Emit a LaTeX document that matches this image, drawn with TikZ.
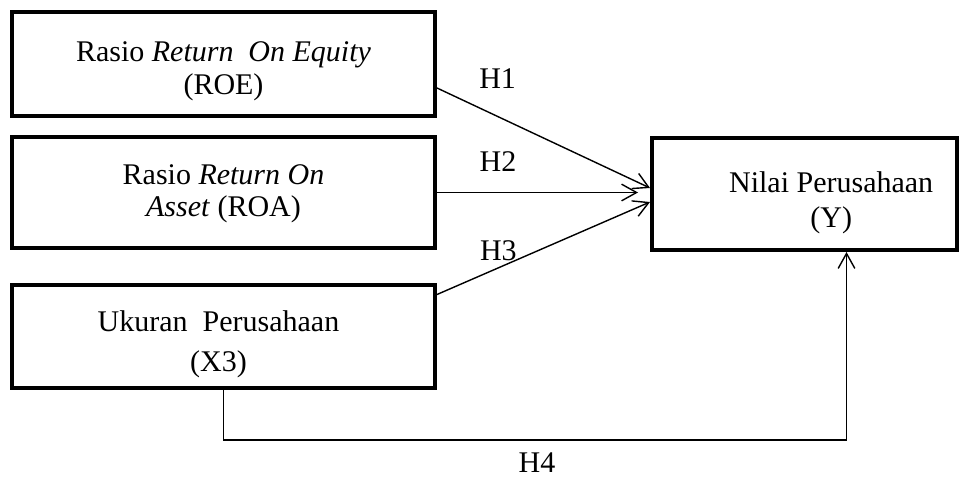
\documentclass[tikz,border=0pt]{standalone}
\usepackage{fontspec}
\setmainfont{Liberation Serif}
\usetikzlibrary{arrows.meta, calc}

\begin{document}
\begin{tikzpicture}[
    box/.style={rectangle, draw=black, line width=3.4pt, minimum width=12.69cm},
    txt/.style={align=center, inner sep=0pt, font=\fontsize{25.6}{28}\selectfont},
    hyp/.style={inner sep=0pt, font=\fontsize{25.6}{28}\selectfont},
    arr/.style={-{Straight Barb[length=0.45cm, width=0.5cm]}, draw=black, line width=1.2pt}
  ]
    \useasboundingbox (0,0) rectangle (28.92,14.4);
    \node[box, minimum height=3.12cm] (roe) at (6.705,12.48) {};
    \node[box, minimum height=3.33cm] (roa) at (6.705,8.625) {};
    \node[box, minimum height=3.09cm] (ukuran) at (6.705,4.305) {};
    \node[box, minimum width=9.15cm, minimum height=3.36cm] (nilai) at (24.135,8.58) {};
    \node[txt] (roetext) at ([yshift=-0.22cm]roe.center) {Rasio \textit{Return\ \ On Equity}\\(ROE)};
    \node[txt] (roatext) at ([yshift=-0.04cm]roa.center) {Rasio \textit{Return On}\\\textit{Asset} (ROA)};
    \node[txt] (ukurantext) at ([xshift=-0.15cm, yshift=-0.23cm]ukuran.center) {Ukuran\ \ Perusahaan\\[6pt](X3)};
    \node[txt] (nilaitext) at ([xshift=0.8cm, yshift=-0.26cm]nilai.center) {Nilai Perusahaan\\[2pt](Y)};
    % hypotheses
    \draw[arr] ([yshift=-0.72cm]roe.east) -- ([yshift=0.18cm]nilai.west);
    \draw[arr] (roa.east) -- ([xshift=-0.36cm]roa.east -| nilai.west);
    \draw[arr] ([yshift=1.26cm]ukuran.east) -- ([yshift=-0.24cm]nilai.west);
    \draw[arr] (ukuran.south) -- ++(0,-1.5) -| ([xshift=1.26cm]nilai.south);
    \node[hyp] (h1) at (14.93,12.03) {H1};
    \node[hyp] (h2) at (14.94,9.54) {H2};
    \node[hyp] (h3) at (14.95,6.87) {H3};
    \node[hyp] (h4) at (16.11,0.52) {H4};
  \end{tikzpicture}
\end{document}
